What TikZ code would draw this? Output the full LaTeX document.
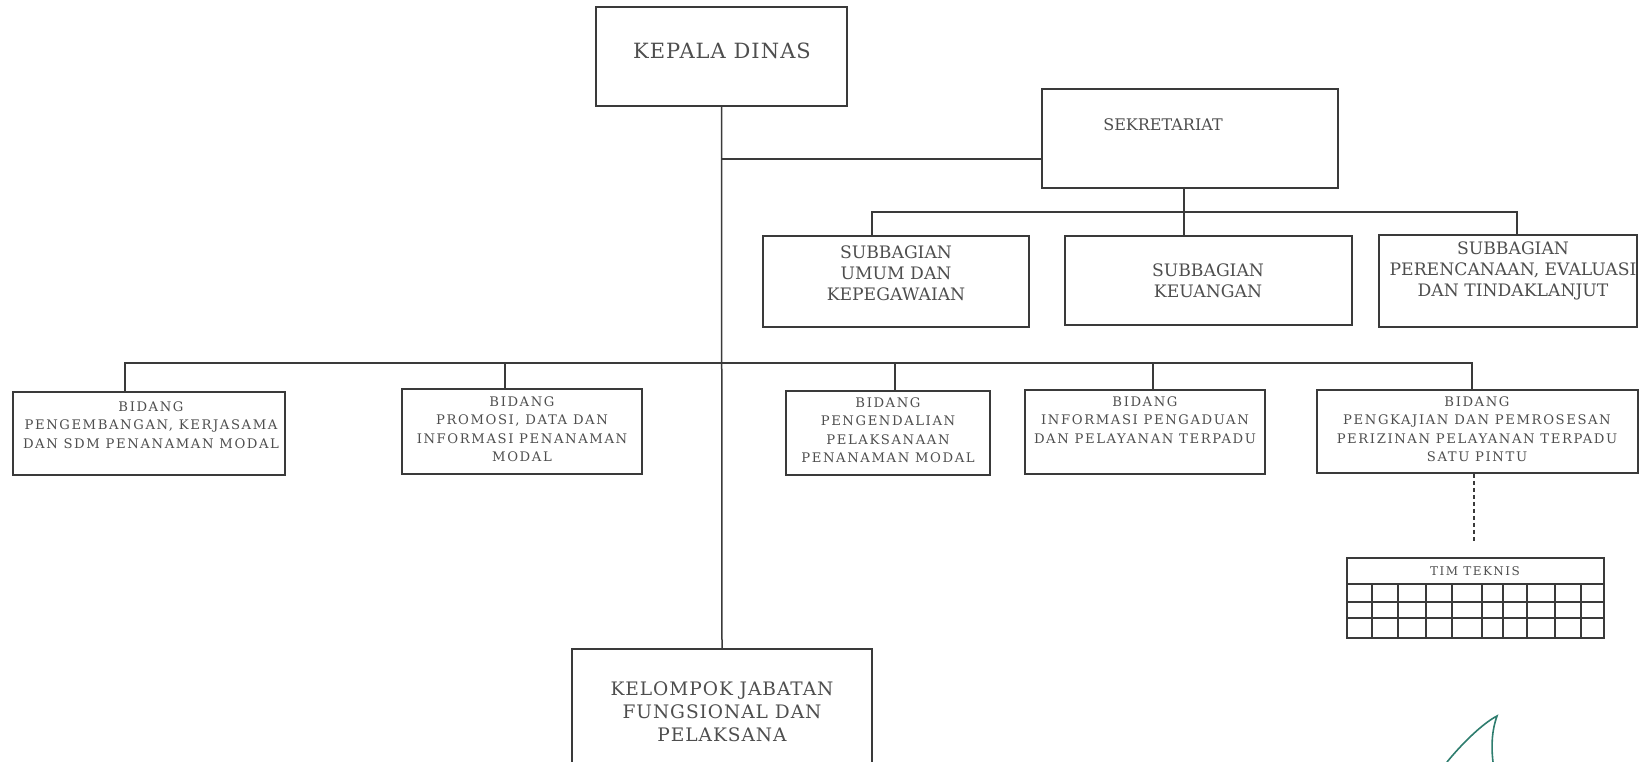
\documentclass[tikz,border=0pt]{standalone}
\usepackage{fontspec}
\setmainfont{DejaVu Serif}
\newfontfamily\widefont[LetterSpace=12]{DejaVu Serif}
\newfontfamily\midfont[LetterSpace=5]{DejaVu Serif}
\definecolor{ink}{HTML}{3A3A3A}
\definecolor{txtgray}{HTML}{4E4E4E}
\definecolor{sig}{HTML}{2E7D6E}
\begin{document}
\begin{tikzpicture}[x=1pt,y=-1pt,
  box/.style={draw=ink,line width=1.6pt,rectangle,inner sep=0pt},
  txt/.style={align=center,text=txtgray,inner sep=0pt},
  big/.style={txt,font=\midfont\fontsize{21}{25}\selectfont},
  sub/.style={txt,font=\fontsize{17.2}{21}\selectfont},
  bid/.style={txt,font=\widefont\fontsize{13.2}{18.5}\selectfont},
  wire/.style={draw=ink,line width=1.5pt}
]
\useasboundingbox (0,0) rectangle (1639,761);
% boxes
\node[box,minimum width=251pt,minimum height=99pt] (kd) at (721.5,56.5) {};
\node[box,minimum width=296pt,minimum height=99pt] (sek) at (1190,138.5) {};
\node[box,minimum width=266pt,minimum height=91pt] (sub1) at (896,281.5) {};
\node[box,minimum width=287pt,minimum height=89pt] (sub2) at (1208.5,280.5) {};
\node[box,minimum width=258pt,minimum height=92pt] (sub3) at (1508,281) {};
\node[box,minimum width=272pt,minimum height=83pt] (b1) at (149,433.5) {};
\node[box,minimum width=240pt,minimum height=85pt] (b2) at (522,431.5) {};
\node[box,minimum width=204pt,minimum height=84pt] (b3) at (888,433) {};
\node[box,minimum width=240pt,minimum height=84pt] (b4) at (1145,432) {};
\node[box,minimum width=321pt,minimum height=83pt] (b5) at (1477.5,431.5) {};
\node[box,minimum width=257pt,minimum height=80pt] (tim) at (1475.5,598) {};
\node[box,minimum width=300pt,minimum height=131pt] (kfp) at (722,714.5) {};
% texts
\node[big] (tkd) at (722,51) {KEPALA DINAS};
\node[txt,font=\fontsize{16}{21}\selectfont] (tsek) at (1163,125) {SEKRETARIAT};
\node[sub] (tsub1) at (896,273) {SUBBAGIAN\\UMUM DAN\\KEPEGAWAIAN};
\node[sub] (tsub2) at (1208,281) {SUBBAGIAN\\KEUANGAN};
\node[sub] (tsub3) at (1513,271) {SUBBAGIAN\\PERENCANAAN, EVALUASI\\DAN TINDAKLANJUT};
\node[bid] (tb1) at (151,425) {BIDANG\\PENGEMBANGAN, KERJASAMA\\DAN SDM PENANAMAN MODAL};
\node[bid] (tb2) at (522,429) {BIDANG\\PROMOSI, DATA DAN\\INFORMASI PENANAMAN\\MODAL};
\node[bid] (tb3) at (888,430) {BIDANG\\PENGENDALIAN\\PELAKSANAAN\\PENANAMAN MODAL};
\node[bid] (tb4) at (1145,420) {BIDANG\\INFORMASI PENGADUAN\\DAN PELAYANAN TERPADU};
\node[bid] (tb5) at (1477,429) {BIDANG\\PENGKAJIAN DAN PEMROSESAN\\PERIZINAN PELAYANAN TERPADU\\SATU PINTU};
\node[txt,font=\widefont\fontsize{12}{14}\selectfont] (ttim) at (1475,571) {TIM TEKNIS};
\node[txt,font=\midfont\fontsize{18.6}{23}\selectfont] (tkfp) at (722,712) {KELOMPOK JABATAN\\FUNGSIONAL DAN\\PELAKSANA};
% tim teknis grid
\draw[ink,line width=1.3pt] (1347,584) -- (1604,584) (1347,602) -- (1604,602) (1347,618) -- (1604,618);
\foreach \gx in {1372,1398,1426,1452,1482,1503,1527,1555,1581}
  \draw[ink,line width=1.3pt] (\gx,584) -- (\gx,638);
% connectors
\draw[wire] (kd.south) -- (kfp.north);
\coordinate (jsek) at (722,159);
\draw[wire] (jsek) -- (jsek -| sek.west);
\draw[wire] ([xshift=-6pt]sek.south) -- ([xshift=-24.5pt]sub2.north);
\coordinate (s1top) at ([xshift=-24pt]sub1.north);
\coordinate (s3top) at ([xshift=9pt]sub3.north);
\coordinate (sbus) at (872,212);
\draw[wire] (s1top) |- (sbus) -| (s3top);
\coordinate (b1top) at ([xshift=-24pt]b1.north);
\coordinate (b5top) at ([xshift=-5.5pt]b5.north);
\coordinate (bbus) at (125,363);
\draw[wire] (b1top) |- (bbus) -| (b5top);
\draw[wire] ([xshift=-17pt]b2.north) -- ++(0,-26);
\draw[wire] ([xshift=7pt]b3.north) -- ++(0,-28);
\draw[wire] ([xshift=8pt]b4.north) -- ++(0,-27);
\draw[ink,line width=1.8pt,dash pattern=on 4pt off 3pt,shorten >=15pt] ([xshift=-3.5pt]b5.south) -- ([xshift=-1.5pt]tim.north);
% mark
\draw[sig,line width=1.6pt,line cap=round] (1447,762) .. controls (1465,740) and (1485,722) .. (1497,716) .. controls (1492,730) and (1491,745) .. (1493,762);
\end{tikzpicture}
\end{document}
